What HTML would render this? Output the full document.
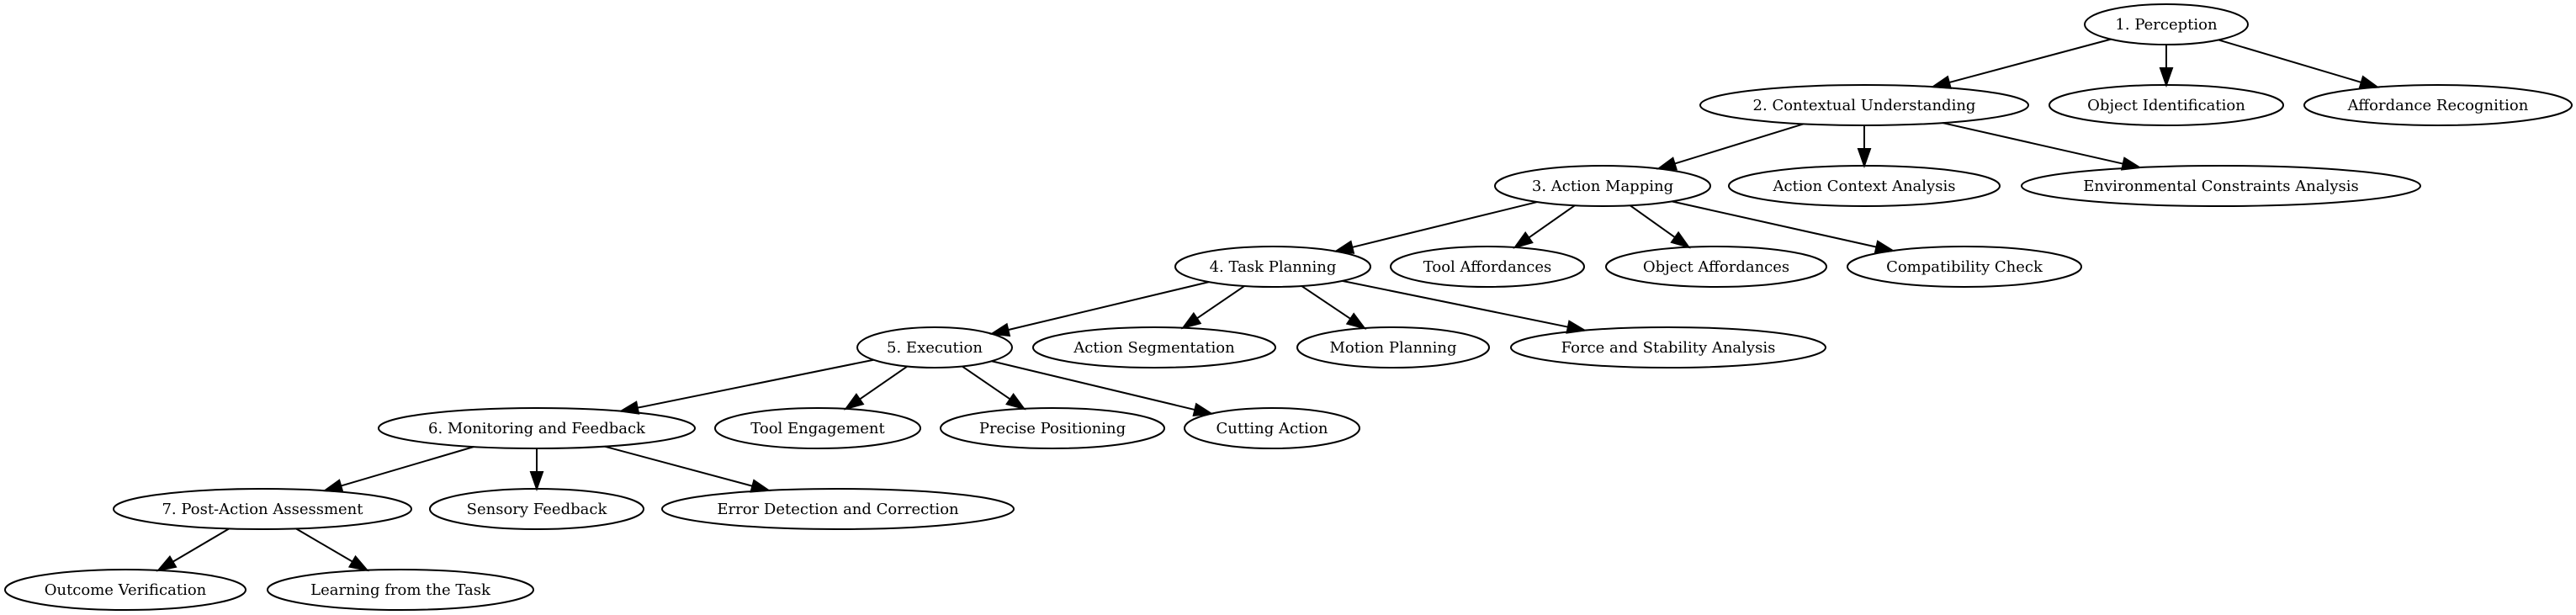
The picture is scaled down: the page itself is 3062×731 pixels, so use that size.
<!DOCTYPE html>
<html><head><meta charset="utf-8"><style>
html,body{margin:0;padding:0;background:#fff;}
svg{display:block;}
text{font-family:"DejaVu Serif","Liberation Serif",serif;font-size:18px;fill:#000;}
ellipse{fill:none;stroke:#000;stroke-width:2;}
</style></head><body>
<svg id="g" width="3062" height="731" viewBox="0 0 3062 731" xmlns="http://www.w3.org/2000/svg">
<g id="edges"></g>
<g id="nodes" text-anchor="middle">
<ellipse cx="2575" cy="29" rx="97" ry="24"/><text x="2575" y="35">1. Perception</text>
<ellipse cx="2216" cy="125" rx="195" ry="24"/><text x="2216" y="131">2. Contextual Understanding</text>
<ellipse cx="2575" cy="125" rx="139" ry="24"/><text x="2575" y="131">Object Identification</text>
<ellipse cx="2898" cy="125" rx="159" ry="24"/><text x="2898" y="131">Affordance Recognition</text>
<ellipse cx="1905" cy="221" rx="128" ry="24"/><text x="1905" y="227">3. Action Mapping</text>
<ellipse cx="2216" cy="221" rx="161" ry="24"/><text x="2216" y="227">Action Context Analysis</text>
<ellipse cx="2640" cy="221" rx="237" ry="24"/><text x="2640" y="227">Environmental Constraints Analysis</text>
<ellipse cx="1513" cy="317" rx="116" ry="24"/><text x="1513" y="323">4. Task Planning</text>
<ellipse cx="1768" cy="317" rx="115" ry="24"/><text x="1768" y="323">Tool Affordances</text>
<ellipse cx="2040" cy="317" rx="131" ry="24"/><text x="2040" y="323">Object Affordances</text>
<ellipse cx="2335" cy="317" rx="139" ry="24"/><text x="2335" y="323">Compatibility Check</text>
<ellipse cx="1111" cy="413" rx="92" ry="24"/><text x="1111" y="419">5. Execution</text>
<ellipse cx="1372" cy="413" rx="144" ry="24"/><text x="1372" y="419">Action Segmentation</text>
<ellipse cx="1656" cy="413" rx="114" ry="24"/><text x="1656" y="419">Motion Planning</text>
<ellipse cx="1983" cy="413" rx="187" ry="24"/><text x="1983" y="419">Force and Stability Analysis</text>
<ellipse cx="638" cy="509" rx="188" ry="24"/><text x="638" y="515">6. Monitoring and Feedback</text>
<ellipse cx="972" cy="509" rx="122" ry="24"/><text x="972" y="515">Tool Engagement</text>
<ellipse cx="1251" cy="509" rx="133" ry="24"/><text x="1251" y="515">Precise Positioning</text>
<ellipse cx="1512" cy="509" rx="104" ry="24"/><text x="1512" y="515">Cutting Action</text>
<ellipse cx="312" cy="605" rx="177" ry="24"/><text x="312" y="611">7. Post-Action Assessment</text>
<ellipse cx="638" cy="605" rx="127" ry="24"/><text x="638" y="611">Sensory Feedback</text>
<ellipse cx="996" cy="605" rx="209" ry="24"/><text x="996" y="611">Error Detection and Correction</text>
<ellipse cx="149" cy="701" rx="143" ry="24"/><text x="149" y="707">Outcome Verification</text>
<ellipse cx="476" cy="701" rx="158" ry="24"/><text x="476" y="707">Learning from the Task</text>
</g>
</svg>
<script>
(function(){
var N=[[2575,29,97],[2216,125,195],[2575,125,139],[2898,125,159],[1905,221,128],[2216,221,161],[2640,221,237],[1513,317,116],[1768,317,115],[2040,317,131],[2335,317,139],[1111,413,92],[1372,413,144],[1656,413,114],[1983,413,187],[638,509,188],[972,509,122],[1251,509,133],[1512,509,104],[312,605,177],[638,605,127],[996,605,209],[149,701,143],[476,701,158]];
var E=[[0,1],[0,2],[0,3],[1,4],[1,5],[1,6],[4,7],[4,8],[4,9],[4,10],[7,11],[7,12],[7,13],[7,14],[11,15],[11,16],[11,17],[11,18],[15,19],[15,20],[15,21],[19,22],[19,23]];
var ry=24,s='';
function hit(n,dx,dy){var t=1/Math.sqrt((dx*dx)/(n[2]*n[2])+(dy*dy)/(ry*ry));return [n[0]+dx*t,n[1]+dy*t];}
E.forEach(function(e){var a=N[e[0]],b=N[e[1]];
 var p=hit(a,b[0]-a[0],b[1]-a[1]);
 var q=hit(b,a[0]-b[0],a[1]-b[1]);
 var dx=q[0]-p[0],dy=q[1]-p[1],L=Math.sqrt(dx*dx+dy*dy),ux=dx/L,uy=dy/L;
 var bx=q[0]-ux*20,by=q[1]-uy*20;
 s+='<line x1="'+p[0]+'" y1="'+p[1]+'" x2="'+bx+'" y2="'+by+'" stroke="#000" stroke-width="2"/>';
 s+='<polygon points="'+q[0]+','+q[1]+' '+(bx-uy*7)+','+(by+ux*7)+' '+(bx+uy*7)+','+(by-ux*7)+'" fill="#000" stroke="#000" stroke-width="2"/>';
});
document.getElementById('edges').innerHTML=s;
})();
</script>
</body></html>
